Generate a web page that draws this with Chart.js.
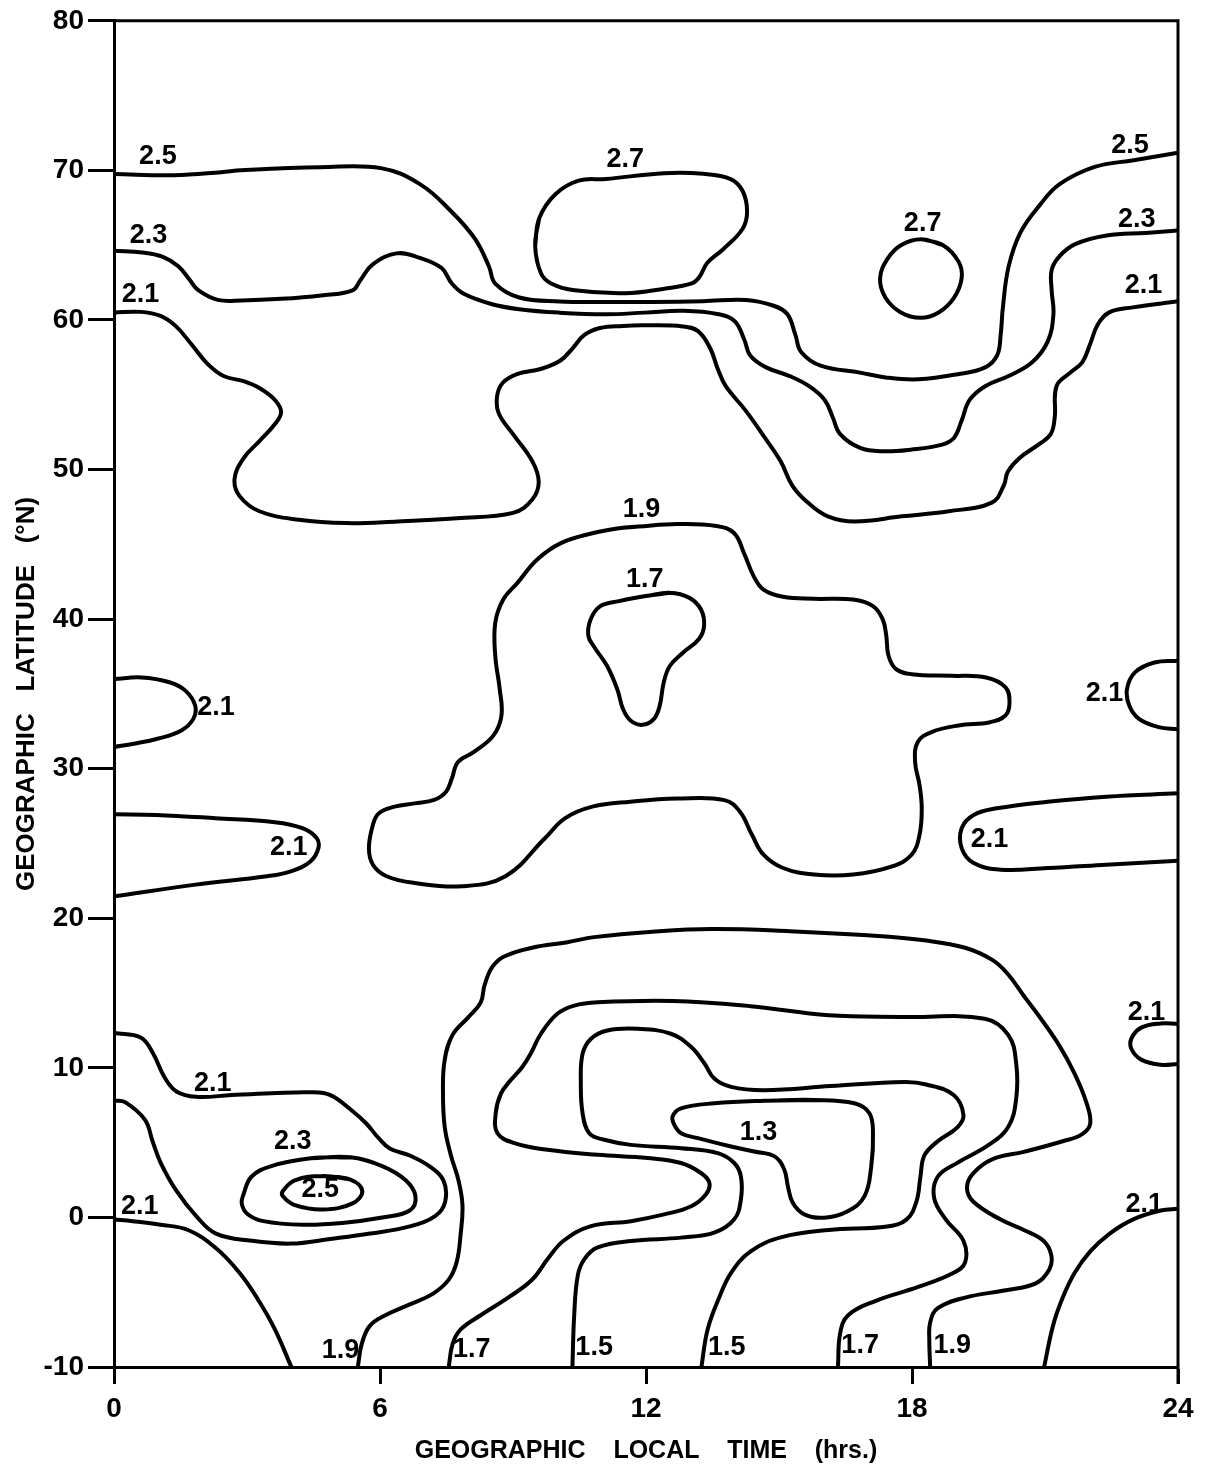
<!DOCTYPE html>
<html><head><meta charset="utf-8">
<script src="https://cdn.jsdelivr.net/npm/chart.js@4.4.1/dist/chart.umd.min.js"></script>
<style>html,body{margin:0;padding:0;background:#fff;}#wrap{width:1212px;height:1480px;}</style>
</head><body><div id="wrap"><canvas id="c" width="1212" height="1480"></canvas></div>
<script>
// ---- Axis ticks ----
const xTicks = [0, 6, 12, 18, 24];        // geographic local time (hrs)
const yTicks = [-10, 0, 10, 20, 30, 40, 50, 60, 70, 80]; // latitude (deg N)

// ---- Contour lines: [local time (h), latitude (deg)] ----
const c27_loopA = [[9.50,64.96],[9.59,66.79],[9.95,68.39],[10.48,69.31],[11.09,69.42],[12.41,69.81],[13.29,69.77],[13.91,69.42],[14.18,68.62],[14.28,67.25],[14.18,66.10],[13.74,64.73],[13.38,63.81],[13.21,62.90],[13.03,62.44],[12.41,62.09],[11.53,61.79],[10.39,61.98],[9.86,62.44],[9.63,63.12],[9.50,64.96]];
const c27_loopB = [[18.2,65.4],[18.7,65.0],[19.05,63.9],[19.12,62.8],[18.95,61.5],[18.6,60.5],[18.2,60.15],[17.75,60.5],[17.4,61.5],[17.28,62.8],[17.45,64.1],[17.75,65.0],[18.2,65.4]];
const c25_north = [[0,69.75],[1.36,69.68],[2.42,69.88],[2.87,70.01],[4.66,70.21],[6.02,70.15],[6.90,69.08],[7.62,67.22],[8.14,65.43],[8.46,63.56],[8.60,62.43],[9.14,61.50],[10.05,61.24],[11.09,61.2],[12.14,61.2],[13.29,61.25],[14.26,61.34],[14.88,60.95],[15.19,60.38],[15.37,59.0],[15.50,57.86],[15.94,56.94],[16.83,56.48],[17.44,56.14],[18.14,56.03],[19.03,56.37],[19.65,56.83],[19.92,57.63],[20.0,59.0],[20.05,60.84],[20.18,63.58],[20.45,65.87],[20.89,67.71],[21.33,69.08],[22.12,70.23],[23.0,70.68],[24,71.18]];
const c23_north = [[0,64.62],[0.64,64.51],[1.09,64.23],[1.45,63.59],[1.71,62.67],[1.90,61.99],[2.34,61.34],[2.88,61.30],[3.77,61.41],[4.67,61.64],[5.38,61.98],[5.56,62.67],[5.83,63.70],[6.37,64.45],[6.90,64.15],[7.39,63.47],[7.62,62.44],[7.89,61.75],[8.51,61.07],[9.14,60.72],[10.04,60.49],[11.09,60.38],[11.97,60.49],[12.85,60.61],[13.64,60.38],[14.0,59.92],[14.22,58.66],[14.35,57.63],[14.71,56.83],[15.24,56.25],[15.68,55.57],[16.03,54.65],[16.21,53.51],[16.38,52.37],[16.83,51.45],[17.35,51.22],[17.97,51.33],[18.68,51.67],[18.95,52.13],[19.12,53.28],[19.30,54.65],[19.65,55.57],[20.18,56.25],[20.71,57.17],[21.06,58.55],[21.19,60.38],[21.15,61.98],[21.15,63.35],[21.33,64.27],[21.68,65.07],[22.39,65.65],[23.27,65.82],[24,65.98]];
const c21_north = [[0,60.49],[0.60,60.54],[1.05,60.27],[1.40,59.57],[1.76,58.32],[2.11,57.06],[2.47,56.25],[2.92,55.91],[3.28,55.45],[3.63,54.65],[3.77,53.84],[3.63,53.04],[3.28,51.90],[2.92,50.75],[2.72,49.38],[2.83,48.24],[3.28,47.21],[4.17,46.64],[5.24,46.42],[6.40,46.53],[7.74,46.75],[9.00,47.10],[9.44,48.01],[9.58,49.16],[9.44,50.53],[9.0,52.37],[8.68,53.74],[8.64,54.88],[8.77,55.80],[9.09,56.38],[9.62,56.72],[10.07,57.29],[10.34,58.09],[10.61,59.0],[10.96,59.46],[11.48,59.6],[11.95,59.64],[12.83,59.57],[13.18,59.24],[13.45,58.09],[13.62,56.72],[13.80,55.57],[14.24,53.97],[14.68,52.13],[15.04,50.53],[15.30,48.93],[15.65,47.79],[16.10,46.87],[16.71,46.53],[17.77,46.87],[18.83,47.21],[19.80,47.79],[20.07,48.93],[20.16,49.85],[20.42,50.76],[20.86,51.68],[21.13,52.37],[21.22,53.51],[21.26,55.57],[21.57,56.48],[21.84,57.17],[22.01,58.32],[22.19,59.70],[22.45,60.51],[22.98,60.84],[24,61.25]];
const c21_bumpL = [[0,35.99],[0.62,36.10],[1.25,35.78],[1.61,35.22],[1.83,34.22],[1.79,33.33],[1.52,32.56],[0.98,32.0],[0.45,31.67],[0,31.45]];
const c21_tongueL = [[0,26.95],[0.95,26.91],[2.29,26.69],[3.63,26.42],[4.25,26.02],[4.57,25.36],[4.61,24.69],[4.43,23.80],[3.99,23.14],[3.45,22.81],[1.84,22.25],[0,21.47]];
const c21_bumpR = [[24,37.21],[23.47,37.10],[23.03,36.44],[22.85,35.33],[22.90,34.22],[23.12,33.33],[23.56,32.78],[24,32.63]];
const c21_tongueR = [[24,28.35],[22.38,28.13],[21.06,27.79],[19.91,27.35],[19.39,26.91],[19.12,26.02],[19.12,24.69],[19.39,23.69],[20.0,23.25],[21.06,23.36],[22.38,23.58],[24,23.85]];
const c19_mid = [[11.83,46.19],[11.40,46.08],[10.79,45.74],[10.08,45.08],[9.54,43.97],[9.10,42.42],[8.78,41.31],[8.60,39.76],[8.60,37.54],[8.70,35.33],[8.74,33.56],[8.56,32.23],[8.12,31.12],[7.76,30.45],[7.62,29.34],[7.49,28.46],[7.22,27.91],[6.78,27.68],[6.33,27.46],[5.97,27.01],[5.84,26.24],[5.75,24.69],[5.84,23.58],[6.15,22.81],[6.78,22.36],[7.85,22.14],[8.83,22.81],[9.72,25.35],[10.17,26.68],[10.79,27.46],[11.65,27.79],[12.71,28.0],[13.77,27.90],[14.12,27.12],[14.39,25.58],[14.65,24.25],[15.09,23.36],[15.79,22.92],[16.67,22.92],[17.55,23.47],[17.99,24.25],[18.17,25.58],[18.22,27.35],[18.17,28.90],[18.07,30.45],[18.13,31.78],[18.44,32.45],[19.05,32.89],[19.76,33.11],[20.11,33.56],[20.20,34.44],[20.11,35.44],[19.67,36.10],[18.88,36.21],[17.99,36.32],[17.64,36.66],[17.47,37.55],[17.42,38.88],[17.34,39.98],[17.12,40.87],[16.67,41.31],[15.79,41.36],[15.09,41.49],[14.65,41.97],[14.43,42.86],[14.21,44.41],[13.99,45.74],[13.59,46.23],[12.71,46.36],[11.83,46.19]];
const c17_mid = [[12.00,41.54],[12.54,41.76],[12.98,41.42],[13.24,40.64],[13.31,39.54],[13.19,38.65],[12.84,37.77],[12.54,36.88],[12.40,35.77],[12.31,34.22],[12.18,33.33],[11.92,32.93],[11.65,33.22],[11.48,34.0],[11.35,35.33],[11.12,36.88],[10.84,38.10],[10.70,38.88],[10.75,39.98],[10.97,40.87],[11.39,41.20],[12.00,41.54]];
const c21_southU = [[0,12.33],[0.60,12.03],[0.87,11.03],[1.14,9.37],[1.41,8.42],[1.85,8.06],[2.65,8.18],[3.55,8.30],[4.44,8.37],[4.88,8.18],[5.33,7.23],[5.69,6.28],[5.96,5.33],[6.22,4.61],[6.67,4.14],[7.11,3.43],[7.43,2.48],[7.47,1.06],[7.25,0.11],[6.67,-0.60],[5.78,-1.08],[4.88,-1.44],[3.99,-1.75],[3.10,-1.56],[2.30,-1.08],[1.85,0.11],[1.41,1.77],[1.05,3.67],[0.87,5.09],[0.70,6.52],[0.25,7.71],[0,7.82]];
const c23_south = [[4.44,3.95],[5.33,4.02],[6.05,3.43],[6.58,2.48],[6.80,1.41],[6.67,0.46],[6.05,-0.01],[5.15,-0.37],[4.26,-0.49],[3.37,-0.25],[3.01,0.23],[2.88,0.94],[2.92,1.53],[3.10,2.72],[3.55,3.43],[4.44,3.95]];
const c25_south = [[4.71,2.77],[5.33,2.53],[5.60,1.77],[5.38,0.94],[4.71,0.53],[4.08,0.82],[3.81,1.41],[3.81,1.77],[4.08,2.48],[4.71,2.77]];
const c21_southL = [[0,-0.13],[0.42,-0.25],[1.05,-0.49],[1.67,-0.84],[2.29,-2.03],[2.83,-3.70],[3.27,-5.59],[3.63,-7.49],[4.0,-10]];
const c19_south = [[5.50,-10],[5.59,-8.44],[5.77,-7.25],[6.12,-6.54],[6.66,-5.83],[7.19,-5.11],[7.55,-4.16],[7.73,-2.98],[7.82,-1.08],[7.86,0.82],[7.77,2.48],[7.60,4.14],[7.46,6.04],[7.42,8.42],[7.46,10.55],[7.64,12.22],[8.0,13.41],[8.27,14.36],[8.36,15.54],[8.53,16.73],[8.80,17.44],[9.43,18.03],[10.23,18.4],[10.83,18.74],[12.15,19.10],[13.47,19.28],[15.24,19.14],[17.0,18.86],[18.32,18.51],[19.20,18.03],[19.82,17.20],[20.17,16.24],[20.52,14.82],[20.88,13.40],[21.32,11.50],[21.67,9.60],[21.93,7.71],[22.02,6.28],[21.84,5.57],[21.40,5.09],[20.52,4.38],[19.82,3.9],[19.38,2.95],[19.24,2.0],[19.38,1.06],[19.99,-0.13],[20.52,-0.84],[20.96,-1.55],[21.14,-2.5],[21.10,-3.46],[20.79,-4.41],[20.08,-4.88],[19.20,-5.36],[18.58,-6.07],[18.41,-7.02],[18.39,-8.20],[18.41,-10]];
const c17_south = [[7.55,-10],[7.64,-8.44],[7.82,-7.49],[8.27,-6.54],[8.89,-5.36],[9.43,-4.17],[9.79,-2.75],[10.14,-1.56],[10.76,-0.58],[11.66,-0.25],[12.41,0.20],[13.02,0.75],[13.35,1.53],[13.43,2.31],[13.24,2.97],[12.79,3.64],[12.04,3.97],[10.91,4.19],[9.78,4.52],[9.03,4.97],[8.65,5.63],[8.61,6.96],[8.73,8.29],[8.95,9.18],[9.21,10.06],[9.40,10.95],[9.63,12.28],[10.0,13.61],[10.38,14.16],[10.91,14.38],[12.60,14.47],[14.36,14.12],[16.12,13.52],[17.88,13.40],[19.64,13.28],[20.17,12.21],[20.35,10.31],[20.35,7.94],[20.17,6.04],[19.73,4.85],[19.03,3.66],[18.58,2.72],[18.50,1.29],[18.76,-0.13],[19.16,-1.56],[19.20,-2.99],[18.94,-3.70],[18.14,-4.65],[17.17,-5.59],[16.56,-6.54],[16.38,-7.73],[16.33,-10]];
const c15_south = [[10.34,-10],[10.38,-6.56],[10.46,-3.90],[10.61,-2.79],[10.91,-2.01],[11.66,-1.58],[12.79,-1.35],[13.54,-1.02],[13.99,-0.13],[14.14,1.20],[14.14,2.75],[13.99,3.64],[13.62,4.30],[12.79,4.63],[11.66,4.85],[11.06,5.19],[10.72,5.63],[10.57,6.96],[10.53,8.96],[10.57,10.95],[10.76,11.95],[11.13,12.50],[11.81,12.61],[12.56,12.28],[13.02,11.39],[13.32,10.29],[13.54,9.29],[13.92,8.73],[14.67,8.51],[16.17,8.78],[17.83,9.06],[18.32,8.89],[18.94,8.18],[19.16,6.87],[19.03,6.04],[18.58,5.09],[18.28,4.14],[18.19,2.72],[18.10,1.06],[17.88,-0.13],[17.44,-0.61],[16.12,-0.84],[15.06,-1.32],[14.36,-2.27],[13.92,-3.70],[13.65,-5.36],[13.39,-7.49],[13.25,-10]];
const c13_south = [[14.67,7.80],[15.80,7.85],[16.70,7.63],[17.04,6.96],[17.12,5.63],[17.08,3.41],[16.93,1.42],[16.55,0.42],[16.02,-0.02],[15.57,0.20],[15.31,0.98],[15.20,2.08],[15.12,3.19],[14.90,4.08],[14.44,4.41],[13.92,4.74],[13.17,5.30],[12.79,5.63],[12.64,6.18],[12.60,6.74],[12.79,7.29],[13.54,7.63],[14.67,7.80]];
const c21_southR12 = [[24,12.93],[23.61,12.97],[23.17,12.69],[22.95,11.97],[22.95,11.26],[23.17,10.55],[23.61,10.20],[24,10.26]];
const c21_southR0 = [[24,0.58],[23.61,0.46],[22.99,-0.13],[22.46,-1.08],[22.02,-2.27],[21.67,-3.70],[21.40,-5.36],[21.18,-7.25],[20.98,-10]];

// ---- Contour value labels ----
const labelText = ['2.5','2.3','2.1','2.7','2.7','2.5','2.3','2.1','1.9','1.7','2.1','2.1','2.1','2.1','2.1','2.1','2.3','2.5','2.1','1.3','2.1','1.9','1.7','1.5','1.5','1.7','1.9'];
const labelHr   = [0.99,0.78,0.60,11.53,18.24,22.92,23.07,23.22,11.9,11.97,2.30,3.94,22.34,19.75,23.29,2.23,4.03,4.65,0.58,14.54,23.24,5.11,8.07,10.83,13.82,16.83,18.91];
const labelLat  = [70.9,65.65,61.69,70.74,66.45,71.68,66.73,62.27,47.34,42.64,34.11,24.72,35.05,25.25,13.71,8.92,5.05,1.85,0.70,5.69,0.89,-8.91,-8.84,-8.71,-8.71,-8.58,-8.56];

const contourSet = [
  ['2.7', c27_loopA], ['2.7', c27_loopB], ['2.5', c25_north], ['2.3', c23_north], ['2.1', c21_north],
  ['2.1', c21_bumpL], ['2.1', c21_tongueL], ['2.1', c21_bumpR], ['2.1', c21_tongueR],
  ['1.9', c19_mid], ['1.7', c17_mid],
  ['2.1', c21_southU], ['2.3', c23_south], ['2.5', c25_south], ['2.1', c21_southL],
  ['1.9', c19_south], ['1.7', c17_south], ['1.5', c15_south], ['1.3', c13_south],
  ['2.1', c21_southR12], ['2.1', c21_southR0]
];

// closed loops: repeat the second point so the spline passes smoothly through the seam
function toPoints(pts) {
  const closed = pts.length > 3 && pts[0][0] === pts[pts.length-1][0] && pts[0][1] === pts[pts.length-1][1];
  const list = closed ? pts.concat([pts[1]]) : pts;
  return list.map(p => ({x: p[0], y: p[1]}));
}

const FONT = '"Liberation Sans", Arial, sans-serif';

const framePlugin = {
  id: 'frame',
  afterDraw(chart) {
    const {ctx, chartArea: a} = chart;
    ctx.save();
    ctx.strokeStyle = '#000';
    ctx.lineWidth = 3;
    ctx.beginPath();
    ctx.moveTo(a.left - 1.5, a.top);
    ctx.lineTo(a.right, a.top);
    ctx.lineTo(a.right, a.bottom + 17);
    ctx.stroke();
    ctx.restore();
  }
};

const labelPlugin = {
  id: 'contourLabels',
  afterDatasetsDraw(chart) {
    const {ctx, scales} = chart;
    ctx.save();
    ctx.fillStyle = '#000';
    ctx.font = 'bold 27px ' + FONT;
    ctx.textAlign = 'center';
    ctx.textBaseline = 'middle';
    labelText.forEach((t, i) => {
      ctx.fillText(t, scales.x.getPixelForValue(labelHr[i]), scales.y.getPixelForValue(labelLat[i]));
    });
    ctx.restore();
  }
};

new Chart(document.getElementById('c'), {
  type: 'scatter',
  data: {
    datasets: contourSet.map(([lev, pts]) => ({
      label: lev,
      data: toPoints(pts),
      showLine: true,
      borderColor: '#000',
      borderWidth: 4,
      borderCapStyle: 'round',
      borderJoinStyle: 'round',
      pointRadius: 0,
      tension: 0.4,
      fill: false
    }))
  },
  options: {
    responsive: false,
    animation: false,
    events: [],
    layout: {padding: {top: 17, right: 34, left: 0, bottom: 0}},
    plugins: {legend: {display: false}, tooltip: {enabled: false}},
    scales: {
      x: {
        type: 'linear', min: 0, max: 24,
        afterBuildTicks(s) { s.ticks = xTicks.map(v => ({value: v})); },
        afterFit(s) { s.height = 113; },
        ticks: {color: '#000', font: {family: FONT, size: 28, weight: 'bold'}, padding: 8, maxRotation: 0},
        grid: {display: true, drawOnChartArea: false, drawTicks: true, tickLength: 17, tickWidth: 3, tickColor: '#000'},
        border: {display: true, color: '#000', width: 3},
        title: {display: true, text: 'GEOGRAPHIC    LOCAL    TIME    (hrs.)', color: '#000', font: {family: FONT, size: 25, weight: 'bold'}, padding: {top: 0, bottom: 14}}
      },
      y: {
        type: 'linear', min: -10, max: 80,
        afterBuildTicks(s) { s.ticks = yTicks.map(v => ({value: v})); },
        afterFit(s) { s.width = 114; },
        ticks: {color: '#000', font: {family: FONT, size: 28, weight: 'bold'}, padding: 4},
        grid: {display: true, drawOnChartArea: false, drawTicks: true, tickLength: 26, tickWidth: 3, tickColor: '#000'},
        border: {display: true, color: '#000', width: 3},
        title: {display: true, text: 'GEOGRAPHIC   LATITUDE   (°N)', color: '#000', font: {family: FONT, size: 26, weight: 'bold'}, padding: {top: 11, bottom: 0}}
      }
    }
  },
  plugins: [framePlugin, labelPlugin]
});
</script>
</body></html>
